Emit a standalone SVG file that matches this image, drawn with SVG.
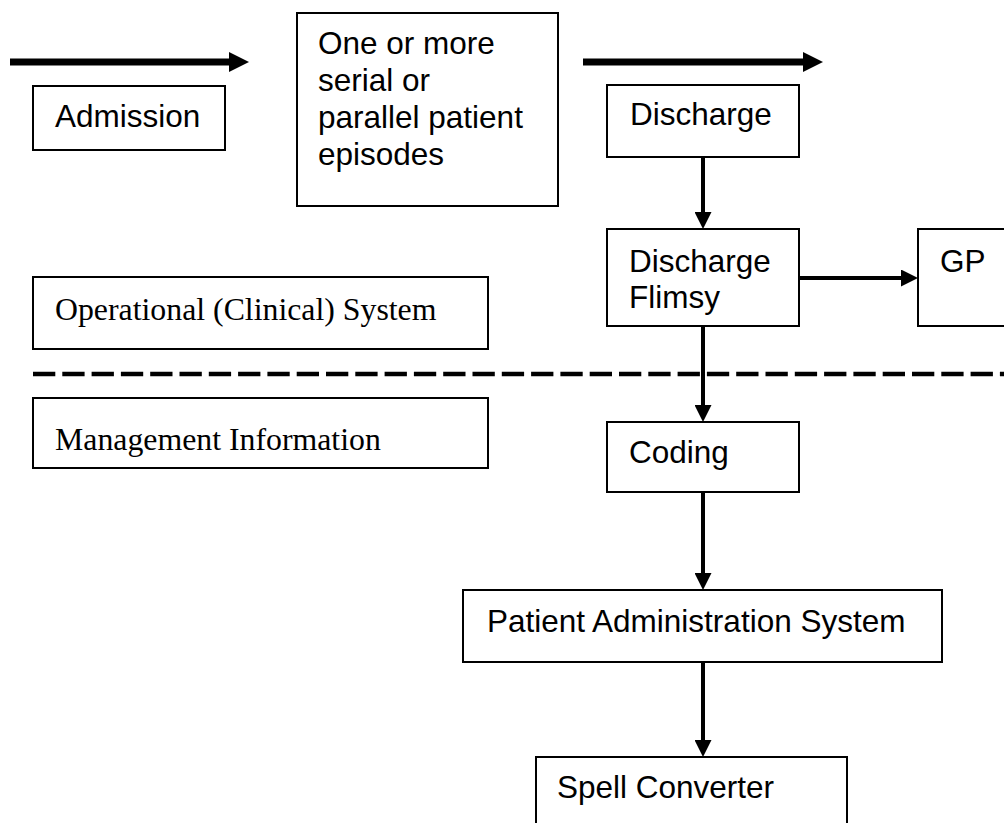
<svg xmlns="http://www.w3.org/2000/svg" width="1004" height="823" viewBox="0 0 1004 823">
<style>
.box{fill:#fff;stroke:#000;stroke-width:2}
.t{font-family:"Liberation Sans",Arial,sans-serif;font-size:31.5px;fill:#000}
.s{font-family:"Liberation Serif","Times New Roman",serif;font-size:31.8px;fill:#000}
.c{stroke:#000;stroke-width:4;fill:none}
.big{stroke:#000;stroke-width:7;fill:none}
</style>
<defs>
<marker id="ah" markerUnits="userSpaceOnUse" markerWidth="17" markerHeight="17" refX="0" refY="8.5" orient="auto"><path d="M0,0 L17,8.5 L0,17 z" fill="#000"/></marker>
<marker id="bh" markerUnits="userSpaceOnUse" markerWidth="20" markerHeight="20" refX="0" refY="10" orient="auto"><path d="M0,0 L20,10 L0,20 z" fill="#000"/></marker>
</defs>
<rect width="1004" height="823" fill="#fff"/>
<g id="connectors">
<line class="big" x1="10" y1="62" x2="229" y2="62" marker-end="url(#bh)"/>
<line class="big" x1="583" y1="62" x2="803" y2="62" marker-end="url(#bh)"/>
<line x1="33" y1="374" x2="1004" y2="374" stroke="#000" stroke-width="4.3" stroke-dasharray="22.3 7"/>
<line class="c" x1="703" y1="157" x2="703" y2="212" marker-end="url(#ah)"/>
<line class="c" x1="703" y1="326" x2="703" y2="405" marker-end="url(#ah)"/>
<line class="c" x1="799" y1="278" x2="901" y2="278" marker-end="url(#ah)"/>
<line class="c" x1="703" y1="492" x2="703" y2="573" marker-end="url(#ah)"/>
<line class="c" x1="703" y1="662" x2="703" y2="740" marker-end="url(#ah)"/>
</g>
<g id="admission"><rect class="box" x="33" y="86" width="192" height="64"/><text class="t" x="55" y="127">Admission</text></g>
<g id="episodes"><rect class="box" x="297" y="13" width="261" height="193"/>
<text class="t" x="318" y="54">One or more</text>
<text class="t" x="318" y="91">serial or</text>
<text class="t" x="318" y="128">parallel patient</text>
<text class="t" x="318" y="165">episodes</text></g>
<g id="discharge"><rect class="box" x="607" y="85" width="192" height="72"/><text class="t" x="630" y="125">Discharge</text></g>
<g id="flimsy"><rect class="box" x="607" y="229" width="192" height="97"/><text class="t" x="629" y="272">Discharge</text><text class="t" x="629" y="308">Flimsy</text></g>
<g id="gp"><rect class="box" x="918" y="229" width="100" height="97"/><text class="t" x="940" y="272">GP</text></g>
<g id="operational"><rect class="box" x="33" y="277" width="455" height="72"/><text class="s" x="55" y="320">Operational (Clinical) System</text></g>
<g id="management"><rect class="box" x="33" y="398" width="455" height="70"/><text class="s" x="55" y="450">Management Information</text></g>
<g id="coding"><rect class="box" x="607" y="422" width="192" height="70"/><text class="t" x="629" y="463">Coding</text></g>
<g id="pas"><rect class="box" x="463" y="590" width="479" height="72"/><text class="t" x="487" y="632">Patient Administration System</text></g>
<g id="spell"><rect class="box" x="536" y="757" width="311" height="80"/><text class="t" x="557" y="798">Spell Converter</text></g>
</svg>
